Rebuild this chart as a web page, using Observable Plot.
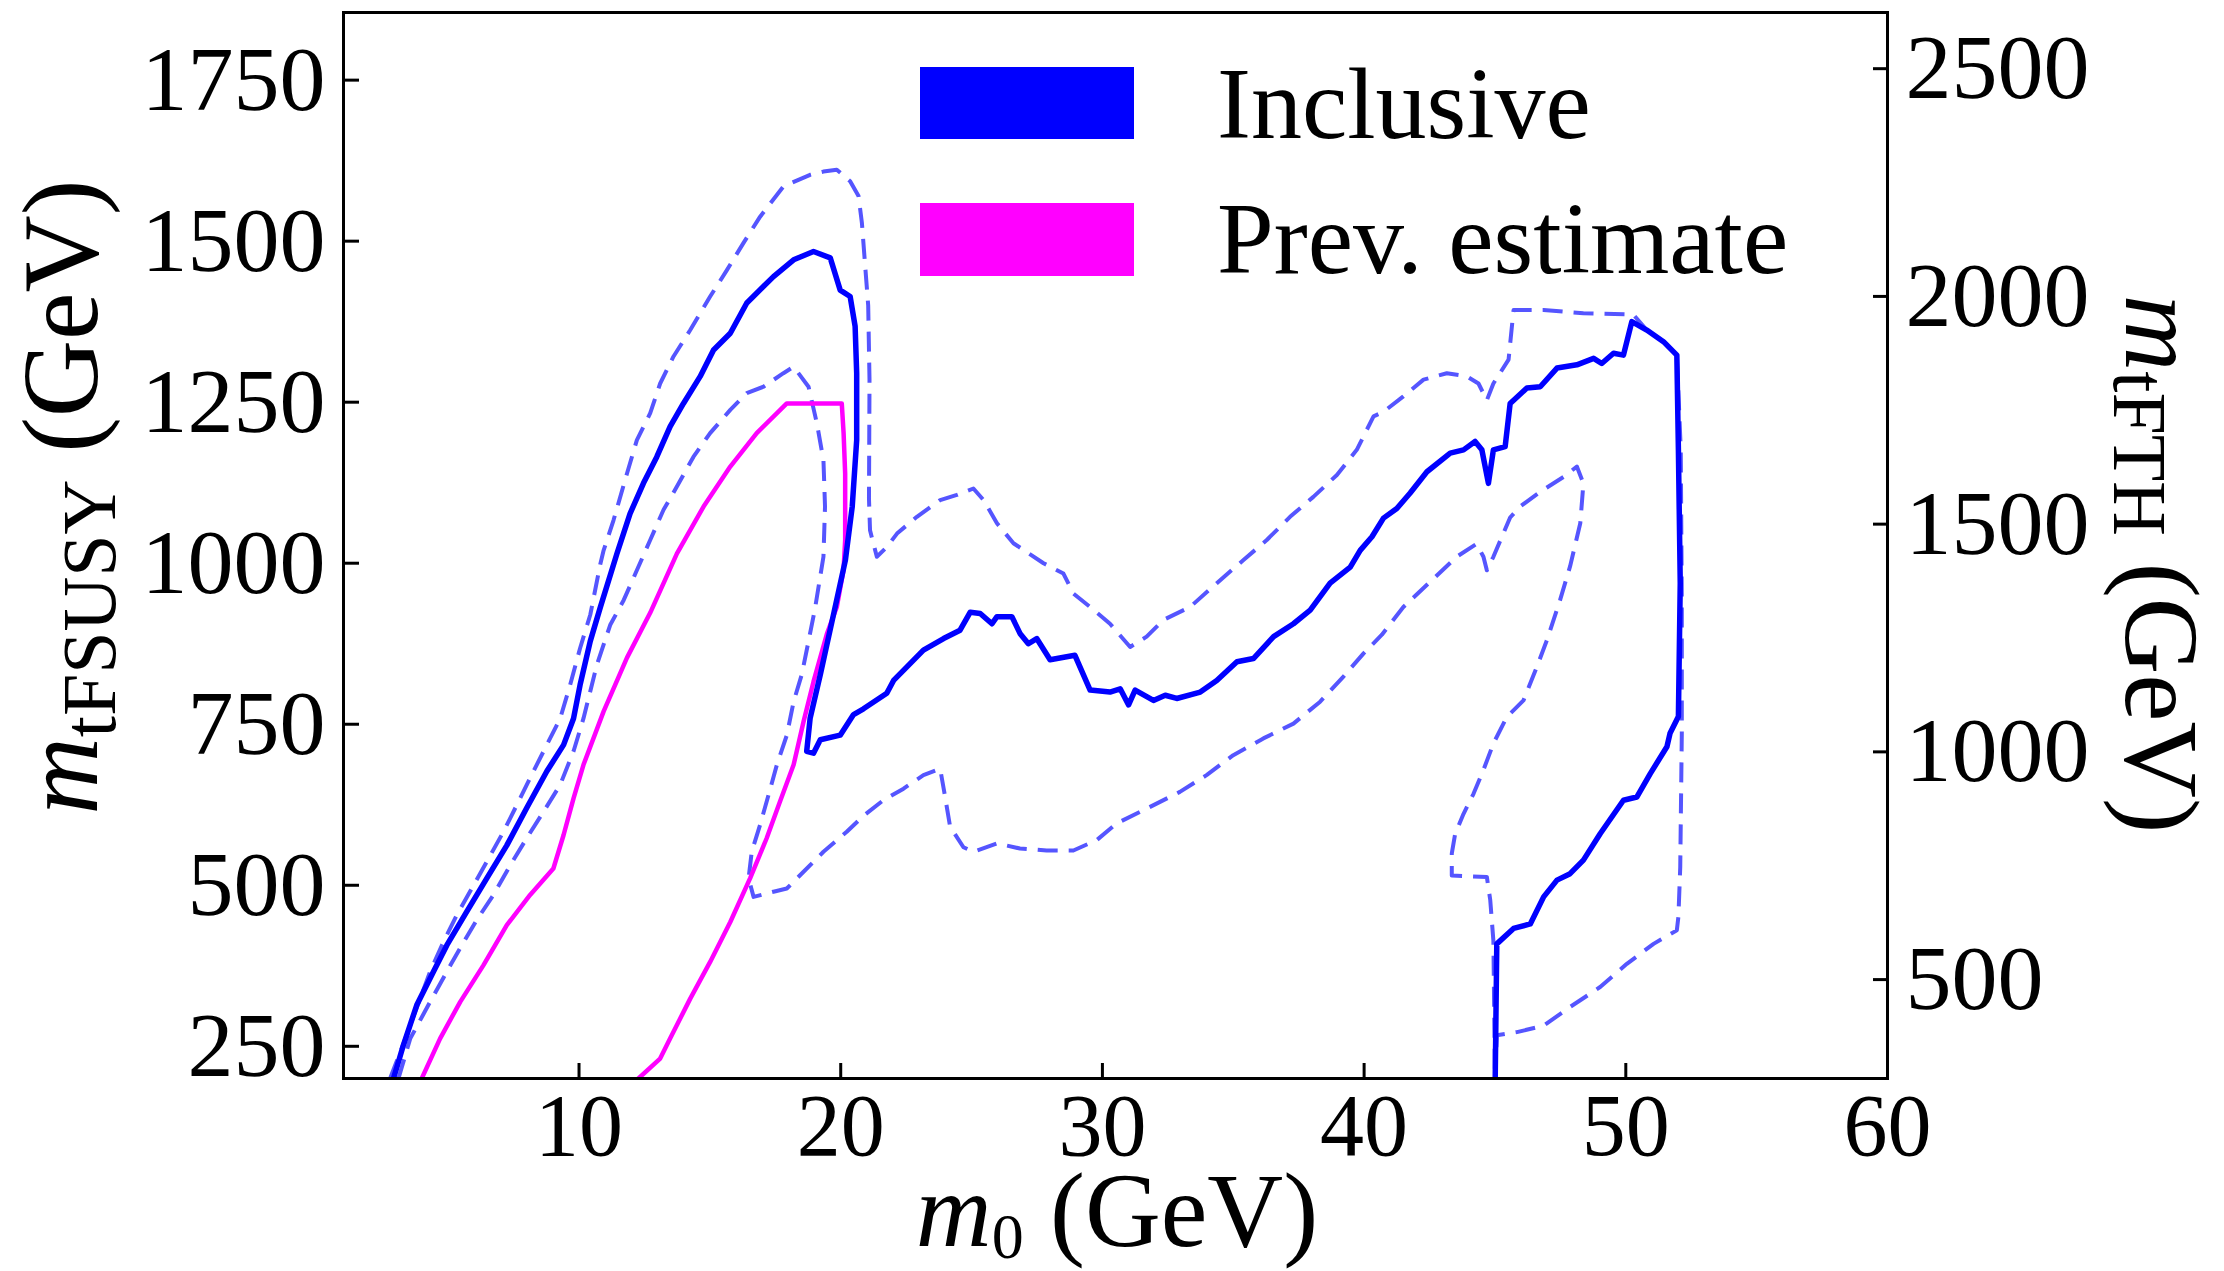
<!DOCTYPE html>
<html><head><meta charset="utf-8">
<script src="https://cdn.jsdelivr.net/npm/d3@7"></script>
<script src="https://cdn.jsdelivr.net/npm/@observablehq/plot@0.6"></script>
<style>body{margin:0;background:#fff;} #chart{position:relative;width:2224px;height:1271px;}</style>
</head><body><div id="chart"></div>
<script>
// ---- tick labels ----
const xTicks = [10, 20, 30, 40, 50, 60];
const yTicksLeft = [250, 500, 750, 1000, 1250, 1500, 1750];
const yTicksRight = [500, 1000, 1500, 2000, 2500];
const rightPerLeft = Math.SQRT2; // m_tFTH = sqrt(2) * m_tFSUSY

// ---- Inclusive central contour (solid) ----
const inclusiveX = [2.91,3.29,3.80,4.44,4.95,5.71,6.48,7.24,8.0,8.77,9.41,9.79,10.04,10.43,10.81,11.45,11.95,12.46,12.97,13.48,13.99,14.63,15.14,15.78,16.41,17.43,18.2,18.96,19.6,19.98,20.36,20.55,20.61,20.61,20.44,20.18,19.75,19.22,18.83,18.7,18.96,19.22,19.98,20.49,20.87,21.76,22.02,22.53,23.16,23.93,24.56,24.95,25.33,25.78,25.97,26.54,26.85,27.17,27.49,28.0,28.95,29.53,30.29,30.68,31.0,31.25,31.95,32.4,32.84,33.74,34.37,35.14,35.77,36.54,37.3,37.94,38.7,39.47,39.85,40.3,40.74,41.25,41.76,42.4,43.29,43.8,44.24,44.5,44.75,44.94,45.39,45.58,46.22,46.73,47.37,48.13,48.77,49.08,49.53,49.91,50.23,50.8,51.44,51.95,52.01,52.08,52.01,51.69,51.57,50.93,50.42,49.91,49.02,48.38,47.87,47.37,46.86,46.35,45.71,45.07,45.01];
const inclusiveY = [200,252,314,366,407,459,511,562,620,677,718,759,811,879,931,1015,1077,1124,1165,1212,1248,1290,1331,1357,1404,1445,1471,1484,1474,1424,1414,1368,1295,1191,1088,1005,925,827,759,708,705,726,733,765,774,798,818,839,865,883,896,924,922,906,917,917,891,875,883,850,857,803,800,805,780,803,787,795,790,800,818,847,852,886,906,927,969,994,1020,1041,1070,1085,1109,1142,1171,1176,1189,1176,1124,1176,1181,1248,1272,1274,1303,1308,1318,1310,1326,1323,1375,1362,1344,1323,1176,969,762,736,715,673,637,632,580,539,518,508,482,440,433,409,200];

// ---- Inclusive outer band (dashed) ----
const upperX = [2.78,3.17,3.55,3.93,4.31,4.82,5.33,5.97,6.48,7.11,7.75,8.26,8.77,9.28,9.66,10.04,10.43,10.81,10.94,11.32,11.83,12.21,12.72,13.1,13.61,14.25,15.01,15.65,16.28,16.92,17.81,18.83,19.34,19.85,20.36,20.68,20.81,21.05,21.1,21.08,21.12,21.38,21.76,22.15,22.91,23.8,24.44,25.07,25.46,25.97,26.6,27.75,28.51,28.89,29.53,30.29,31.06,31.69,32.33,33.35,34.37,35.39,36.28,37.17,38.06,38.96,39.72,40.36,40.74,41.5,42.27,43.16,43.93,44.37,44.69,44.94,45.52,45.71,46.86,48.38,50.29,50.8,51.44,51.95,52.1,52.14,52.14,52.08,52.01,51.95,51.06,50.04,49.02,47.87,46.86,45.84,45.07,45.01];
const upperY = [200,241,283,324,366,412,454,500,537,583,635,677,718,759,811,868,920,998,1020,1067,1139,1191,1233,1279,1321,1362,1414,1455,1497,1538,1585,1603,1608,1611,1593,1570,1528,1400,1285,1100,1051,1010,1025,1046,1072,1098,1106,1116,1098,1062,1031,1000,984,953,932,906,870,886,912,932,969,1005,1036,1072,1103,1137,1176,1228,1235,1259,1285,1295,1290,1279,1253,1279,1316,1393,1393,1388,1386,1362,1344,1323,1176,943,736,528,451,430,409,378,342,311,282,272,267,200];

// ---- Inclusive inner band (dashed) ----
const lowerX = [3.10,3.55,4.31,4.95,5.52,6.09,6.73,7.37,8.0,8.64,9.28,9.79,10.17,10.68,11.19,11.71,12.21,12.72,13.23,13.74,14.37,15.01,15.78,16.41,17.05,17.81,18.2,18.77,19.09,19.34,19.4,19.34,19.02,18.77,18.51,18.2,17.94,17.56,17.24,16.92,16.6,16.48,16.67,17.43,17.94,18.58,19.34,20.23,20.87,21.63,22.4,23.16,23.8,23.99,24.18,24.69,25.07,25.97,26.85,27.87,28.89,29.78,30.54,31.69,32.96,33.98,35.0,36.15,37.3,38.32,39.21,39.98,40.68,41.5,42.52,43.54,44.3,44.56,44.69,44.94,45.58,45.96,46.73,47.62,48.13,48.38,48.26,47.87,47.49,46.98,46.6,46.09,45.45,44.94,44.56,44.18,43.8,43.48,43.35,43.35,44.69,44.82,44.94,45.0];
const lowerY = [200,262,319,366,407,446,485,531,573,614,656,708,759,842,904,943,989,1036,1083,1119,1165,1202,1238,1264,1274,1295,1305,1274,1217,1160,1088,1010,930,879,827,785,733,687,640,594,552,511,482,490,495,521,552,583,608,632,650,671,681,637,591,559,552,565,557,554,554,570,596,619,645,671,702,728,751,785,824,860,889,932,971,1010,1030,1010,989,1010,1071,1088,1111,1134,1150,1124,1062,995,943,880,839,787,761,720,679,642,611,580,549,515,513,477,414,200];

// ---- Previous estimate (magenta) ----
const prevX = [3.99,4.69,5.46,6.35,7.24,8.13,9.02,9.41,9.79,10.17,10.94,11.83,12.72,13.74,14.76,15.78,16.79,17.94,20.04,20.11,20.17,20.17,20.11,19.85,19.47,18.96,18.58,18.2,17.68,17.17,16.54,15.78,15.01,14.25,13.48,13.1,12.27];
const prevY = [200,262,319,376,438,485,526,578,635,687,770,853,923,1015,1088,1150,1202,1248,1248,1202,1139,1036,990,932,890,816,754,687,630,573,511,443,381,324,262,231,200];

const zip = (xs, ys) => xs.map((x, i) => ({x, y: ys[i]}));

const W = 2224, H = 1271, mL = 343, mR = 337, mT = 12, mB = 193;
const plotW = W - mL - mR, plotH = H - mT - mB;
const serif = "'Liberation Serif', 'Times New Roman', serif";

const chart = Plot.plot({
  width: W, height: H,
  marginLeft: mL, marginRight: mR, marginTop: mT, marginBottom: mB,
  style: {fontFamily: serif, background: "white", color: "black"},
  x: {domain: [1, 60]},
  y: {domain: [200, 1855]},
  marks: [
    Plot.line(zip(upperX, upperY), {x: "x", y: "y", stroke: "#5555ff", strokeWidth: 4, strokeDasharray: "20,11", strokeLinecap: "butt", clip: true}),
    Plot.line(zip(lowerX, lowerY), {x: "x", y: "y", stroke: "#5555ff", strokeWidth: 4, strokeDasharray: "20,11", strokeLinecap: "butt", clip: true}),
    Plot.line(zip(prevX, prevY), {x: "x", y: "y", stroke: "#ff00ff", strokeWidth: 4.5, clip: true}),
    Plot.line(zip(inclusiveX, inclusiveY), {x: "x", y: "y", stroke: "#0000ff", strokeWidth: 5.5, clip: true}),
    Plot.frame({stroke: "black", strokeWidth: 3}),
    Plot.tickY(yTicksLeft, {y: d => d, stroke: "black", strokeWidth: 3, insetRight: plotW - 16}),
    Plot.tickY(yTicksRight.map(r => r / rightPerLeft), {y: d => d, stroke: "black", strokeWidth: 3, insetLeft: plotW - 14}),
    Plot.tickX(xTicks, {x: d => d, stroke: "black", strokeWidth: 3, insetTop: plotH - 15}),
    Plot.axisX({ticks: xTicks, tickSize: 0, tickPadding: 14, fontSize: 88, label: null, fill: "black"}),
    Plot.axisY({anchor: "left", ticks: yTicksLeft, tickSize: 0, tickPadding: 18, fontSize: 92, label: null, fill: "black", tickFormat: d => String(d)}),
    Plot.axisY({anchor: "right", ticks: yTicksRight.map(r => r / rightPerLeft), tickSize: 0, tickPadding: 18, fontSize: 92, label: null, fill: "black", tickFormat: d => String(Math.round(d * rightPerLeft))})
  ]
});

document.getElementById("chart").appendChild(chart);
const svg = d3.select(chart);

// axis titles
const yl = svg.append("text").attr("transform", "translate(97,497) rotate(-90)")
  .attr("text-anchor", "middle").attr("font-size", 107).attr("font-family", serif).attr("fill", "black");
yl.append("tspan").attr("font-style", "italic").text("m");
yl.append("tspan").attr("font-size", 76).attr("dy", 18).text("tFSUSY");
yl.append("tspan").attr("dy", -18).text("\u00A0(GeV)");

const yr = svg.append("text").attr("transform", "translate(2126,564) rotate(90)")
  .attr("text-anchor", "middle").attr("font-size", 106).attr("font-family", serif).attr("fill", "black");
yr.append("tspan").attr("font-style", "italic").text("m");
yr.append("tspan").attr("font-size", 76).attr("dy", 12).text("tFTH");
yr.append("tspan").attr("dy", -12).text("\u00A0(GeV)");

const xl = svg.append("text").attr("x", 1117).attr("y", 1246)
  .attr("text-anchor", "middle").attr("font-size", 105).attr("font-family", serif).attr("fill", "black");
xl.append("tspan").attr("font-style", "italic").text("m");
xl.append("tspan").attr("font-size", 64).attr("dy", 12).text("0");
xl.append("tspan").attr("dy", -12).text("\u00A0(GeV)");

// legend
const leg = svg.append("g").attr("font-family", serif).attr("font-size", 102).attr("fill", "black").attr("text-anchor", "start");
leg.append("rect").attr("x", 920).attr("y", 67).attr("width", 214).attr("height", 72).attr("fill", "#0000ff");
leg.append("rect").attr("x", 920).attr("y", 203).attr("width", 214).attr("height", 73).attr("fill", "#ff00ff");
leg.append("text").attr("x", 1217).attr("y", 138).attr("text-anchor", "start").text("Inclusive");
leg.append("text").attr("x", 1217).attr("y", 273).attr("text-anchor", "start").text("Prev. estimate");
</script>
</body></html>
